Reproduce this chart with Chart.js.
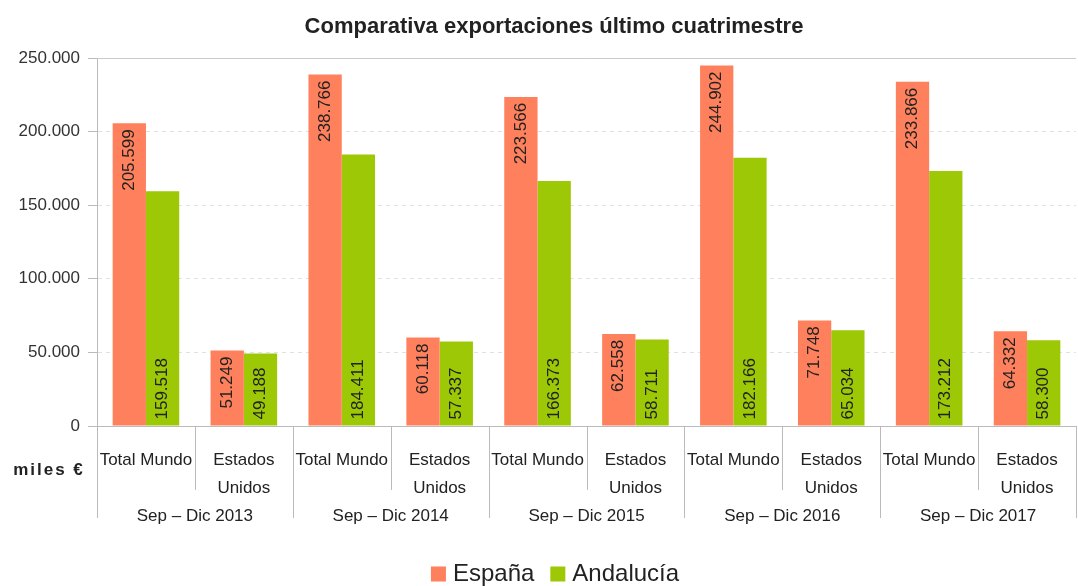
<!DOCTYPE html>
<html>
<head>
<meta charset="utf-8">
<script src="https://cdn.jsdelivr.net/npm/chart.js@4"></script>
<style>
  html, body { margin: 0; padding: 0; background: #fff; }
  #wrap { width: 1078px; height: 586px; }
</style>
</head>
<body>
<div id="wrap"><canvas id="myChart" width="1078" height="586"></canvas></div>
<script>
// data
const periods = ['Sep – Dic 2013', 'Sep – Dic 2014', 'Sep – Dic 2015', 'Sep – Dic 2016', 'Sep – Dic 2017'];
const markets = [['Total Mundo'], ['Estados', 'Unidos']];
const espana = [205599, 51249, 238766, 60118, 223566, 62558, 244902, 71748, 233866, 64332];
const andalucia = [159518, 49188, 184411, 57337, 166373, 58711, 182166, 65034, 173212, 58300];
const yTicks = [0, 50000, 100000, 150000, 200000, 250000];

const categories = [];
periods.forEach(p => markets.forEach(m => categories.push(m.join(' '))));

const fmt = v => String(v).replace(/\B(?=(\d{3})+(?!\d))/g, '.');

Chart.defaults.font.family = "'Liberation Sans', Arial, sans-serif";
Chart.defaults.color = '#333';

const FONT = "'Liberation Sans', Arial, sans-serif";

const extras = {
    id: 'extras',
    afterDraw(chart) {
        const c = chart.ctx;
        const area = chart.chartArea;
        const x = chart.scales.x;
        c.save();

        // title
        c.fillStyle = '#222';
        c.font = 'bold 22px ' + FONT;
        c.textAlign = 'center';
        c.textBaseline = 'middle';
        c.fillText('Comparativa exportaciones último cuatrimestre', 554, 27);

        // solid top line
        c.strokeStyle = '#c6cbcb';
        c.lineWidth = 1;
        c.beginPath();
        c.moveTo(area.left, Math.round(area.top) + 0.5);
        c.lineTo(area.right, Math.round(area.top) + 0.5);
        c.stroke();

        // category separators below the axis
        const step = (area.right - area.left) / categories.length;
        c.strokeStyle = '#bbb';
        for (let i = 0; i <= categories.length; i++) {
            const px = Math.round(area.left + i * step) + 0.5;
            c.beginPath();
            c.moveTo(px, area.bottom);
            c.lineTo(px, i % 2 === 0 ? area.bottom + 92 : area.bottom + 64);
            c.stroke();
        }

        // category labels
        c.fillStyle = '#222';
        c.font = '17px ' + FONT;
        categories.forEach((cat, i) => {
            const cx = x.getPixelForValue(i);
            markets[i % 2].forEach((ln, j) => c.fillText(ln, cx, area.bottom + 34 + j * 28));
        });
        periods.forEach((p, g) => {
            c.fillText(p, area.left + (g * 2 + 1) * step, area.bottom + 90);
        });

        // unit label
        c.font = 'bold 17px ' + FONT;
        c.letterSpacing = '2px';
        c.fillText('miles €', 49, area.bottom + 44);
        c.letterSpacing = '0px';

        // value labels inside bars
        c.font = '17px ' + FONT;
        chart.data.datasets.forEach((ds, di) => {
            chart.getDatasetMeta(di).data.forEach((bar, i) => {
                c.save();
                c.translate(bar.x, 0);
                c.rotate(-Math.PI / 2);
                c.textBaseline = 'middle';
                if (di === 0) {
                    c.textAlign = 'right';
                    c.fillText(fmt(ds.data[i]), -(bar.y + 6), 0);
                } else {
                    c.textAlign = 'left';
                    c.fillText(fmt(ds.data[i]), -(bar.base - 6), 0);
                }
                c.restore();
            });
        });

        // legend
        c.font = '24px ' + FONT;
        c.textAlign = 'left';
        const items = chart.data.datasets.map(ds => ({ text: ds.label, color: ds.backgroundColor }));
        const box = 15, gap = 7, itemGap = 16;
        let total = 0;
        items.forEach((it, k) => {
            it.w = c.measureText(it.text).width;
            total += box + gap + it.w + (k ? itemGap : 0);
        });
        let lx = 555 - total / 2;
        const ly = 574;
        items.forEach((it, k) => {
            if (k) lx += itemGap;
            c.fillStyle = it.color;
            c.fillRect(lx, ly - 7.5, box, box);
            lx += box + gap;
            c.fillStyle = '#222';
            c.fillText(it.text, lx, ly);
            lx += it.w;
        });
        c.restore();
    }
};

const ctx = document.getElementById('myChart').getContext('2d');
let myChart = new Chart(ctx, {
    type: 'bar',
    data: {
        labels: categories,
        datasets: [
            {
                label: 'España',
                data: espana,
                backgroundColor: '#ff805c',
                borderWidth: 0,
                categoryPercentage: 0.68,
                barPercentage: 1
            },
            {
                label: 'Andalucía',
                data: andalucia,
                backgroundColor: '#9dc806',
                borderWidth: 0,
                categoryPercentage: 0.68,
                barPercentage: 1
            }
        ]
    },
    options: {
        responsive: false,
        animation: false,
        layout: { padding: { left: 0, right: 2, top: 58, bottom: 0 } },
        plugins: {
            title: { display: false },
            legend: { display: false },
            tooltip: { enabled: false }
        },
        scales: {
            x: {
                ticks: { display: false },
                grid: { display: false, drawTicks: false },
                border: { color: '#bbb' },
                afterFit: s => { s.height = 160; }
            },
            y: {
                min: 0,
                max: 250000,
                afterBuildTicks: s => { s.ticks = yTicks.map(v => ({ value: v })); },
                ticks: {
                    color: '#333',
                    font: { size: 17 },
                    padding: 8,
                    callback: v => fmt(v)
                },
                grid: {
                    color: '#dde2e2',
                    tickColor: '#bbb',
                    tickLength: 9,
                    tickBorderDash: []
                },
                border: { color: '#bbb', dash: [4, 4] },
                afterFit: s => { s.width = 97; }
            }
        }
    },
    plugins: [extras]
});
</script>
</body>
</html>
